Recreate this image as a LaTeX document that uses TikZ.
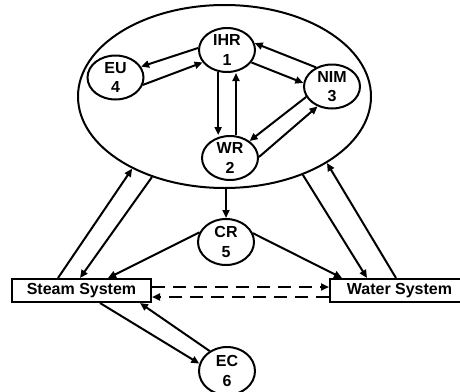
\documentclass[tikz,border=0pt]{standalone}
\usepackage{fontspec}
\setmainfont{Liberation Sans}
\usetikzlibrary{shapes.geometric,arrows.meta}

\begin{document}
\begin{tikzpicture}[x=1pt,y=-1pt,
  every node/.style={font=\bfseries\fontsize{16}{19.5}\selectfont},
  unit/.style={draw,ellipse,line width=2pt,minimum width=56pt,minimum height=44pt,inner sep=0pt,align=center},
  sys/.style={draw,rectangle,line width=2pt,minimum width=139pt,minimum height=23pt,inner sep=0pt},
  link/.style={line width=2pt,-{Triangle[length=8pt,width=7pt]}}]
\useasboundingbox (0,0) rectangle (460,391);
\node[draw,ellipse,line width=2pt,minimum width=293pt,minimum height=183pt] (plant) at (224.5,96.5) {};
\node[unit] (IHR) at (227,50) {IHR\\1};
\node[unit] (EU) at (115.5,77.5) {EU\\4};
\node[unit] (NIM) at (332,86.5) {NIM\\3};
\node[unit] (WR) at (230,158) {WR\\2};
\node[unit,minimum height=46pt] (CR) at (226,242) {CR\\5};
\node[unit,minimum height=48pt] (EC) at (227,371) {EC\\6};
\node[sys] (steam) at (81.5,290.5) {Steam System};
\node[sys] (water) at (399.5,290.5) {Water System};
% inside the plant
\draw[link] (IHR.176) -- (EU.23);
\draw[link] (EU.-15) -- (IHR.207);
\draw[link] (IHR.333) -- (NIM.173);
\draw[link] (NIM.130) -- (IHR.14);
\draw[link] (IHR.248) -- (IHR.248 |- WR.north);
\draw[link] ([xshift=6pt]WR.north) -- ([xshift=6pt]WR.north |- IHR.south);
\draw[link] (NIM.202) -- (WR.41);
\draw[link] (WR.2) -- (NIM.234);
% plant and systems
\draw[link] ([xshift=-23.5pt]steam.north) -- (plant.218);
\draw[link] (plant.228) -- ([xshift=-1.5pt]steam.north);
\draw[link] (plant.315) -- ([xshift=-32.5pt]water.north);
\draw[link] ([xshift=-3.5pt]water.north) -- (plant.327);
\draw[link] (CR.north |- plant.south) -- (CR.north);
\draw[link] (CR.160) -- ([xshift=26.5pt]steam.north);
\draw[link] (CR.18) -- ([xshift=-57.5pt]water.north);
\draw[link,dash pattern=on 13pt off 8pt] ([yshift=3.5pt]steam.east) -- ([yshift=3.5pt]water.west);
\draw[link,dash pattern=on 13pt off 8pt] ([yshift=-6.5pt]water.west) -- ([yshift=-6.5pt]steam.east);
\draw[link] ([xshift=18.5pt]steam.south) -- (EC.165);
\draw[link] (EC.131) -- ([xshift=58.5pt]steam.south);
\end{tikzpicture}
\end{document}
